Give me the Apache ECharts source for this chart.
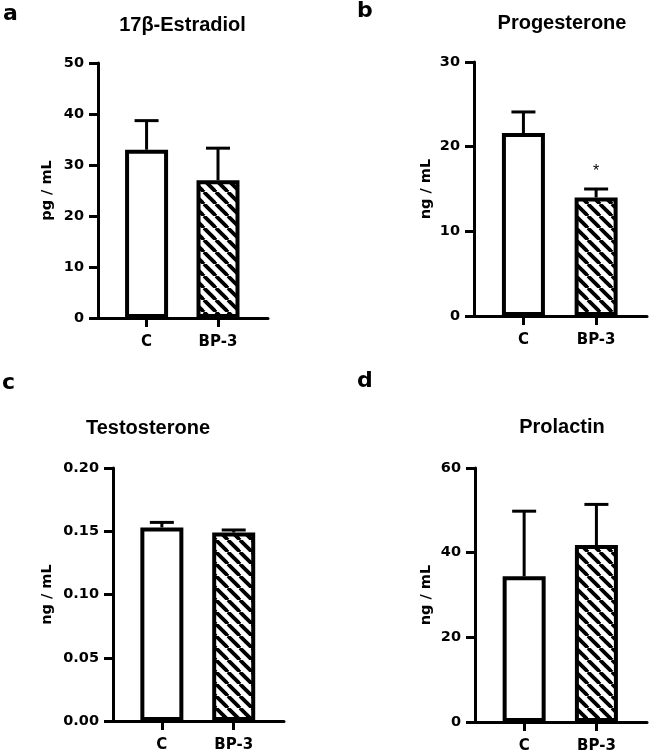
<!DOCTYPE html>
<html>
<head>
<meta charset="utf-8">
<script src="https://cdn.jsdelivr.net/npm/echarts@6/dist/echarts.min.js"></script>
<style>html,body{margin:0;padding:0;background:#fff;}#main{width:649px;height:755px;}</style>
</head>
<body>
<div id="main"></div>
<script>
const categories = ['C', 'BP-3'];
const estradiolMean = [33.0, 27.0];
const estradiolUpper = [38.7, 33.3];
const progesteroneMean = [21.6, 14.0];
const progesteroneUpper = [24.1, 15.0];
const progesteroneSig = ['', '*'];
const testosteroneMean = [0.153, 0.149];
const testosteroneUpper = [0.157, 0.151];
const prolactinMean = [34.4, 41.8];
const prolactinUpper = [49.8, 51.4];

const titles = ['17\u03B2-Estradiol', 'Progesterone', 'Testosterone', 'Prolactin'];
const panelLetters = ['a', 'b', 'c', 'd'];
const yNames = ['pg / mL', 'ng / mL', 'ng / mL', 'ng / mL'];
const yMax = [50, 30, 0.2, 60];
const yInterval = [10, 10, 0.05, 20];

const FONT = '"Liberation Sans", Arial, sans-serif';
const WFONT = '"DejaVu Sans", sans-serif';

// hatch pattern
const tile = document.createElement('canvas');
tile.width = 12; tile.height = 12;
const tc = tile.getContext('2d');
tc.fillStyle = '#fff'; tc.fillRect(0, 0, 12, 12);
tc.strokeStyle = '#000'; tc.lineWidth = 3.8;
[-12, 0, 12].forEach(function (x0) {
  tc.beginPath(); tc.moveTo(x0, 0); tc.lineTo(x0 + 12, 12); tc.stroke();
});
const hatch = { image: tile, repeat: 'repeat' };

const panels = [
  { mean: estradiolMean, upper: estradiolUpper, sig: ['', ''], grid: { left: 98, top: 63, width: 170, height: 255 }, nameGap: 43 },
  { mean: progesteroneMean, upper: progesteroneUpper, sig: progesteroneSig, grid: { left: 474, top: 62, width: 173, height: 254 }, nameGap: 40 },
  { mean: testosteroneMean, upper: testosteroneUpper, sig: ['', ''], grid: { left: 113, top: 468, width: 171, height: 253 }, nameGap: 58 },
  { mean: prolactinMean, upper: prolactinUpper, sig: ['', ''], grid: { left: 475, top: 468, width: 172, height: 254 }, nameGap: 41 }
];

const grid = [], xAxis = [], yAxis = [], series = [];
panels.forEach(function (p, i) {
  grid.push(p.grid);
  xAxis.push({
    type: 'value', gridIndex: i, min: -0.68, max: 1.70,
    splitLine: { show: false },
    axisLine: { onZero: false, lineStyle: { color: '#000', width: 3 } },
    axisTick: { show: true, customValues: [0, 1], length: 9, lineStyle: { color: '#000', width: 3 } },
    axisLabel: {
      customValues: [0, 1], margin: 17,
      formatter: function (v) { return categories[Math.round(v)]; },
      color: '#000', fontFamily: WFONT, fontWeight: 'bold', fontSize: 15
    }
  });
  yAxis.push({
    type: 'value', gridIndex: i, min: 0, max: yMax[i], interval: yInterval[i],
    name: yNames[i], nameLocation: 'middle', nameGap: p.nameGap, nameRotate: 90,
    nameTextStyle: { color: '#000', fontFamily: WFONT, fontWeight: 'bold', fontSize: 14.5 },
    splitLine: { show: false },
    axisLine: { show: true, onZero: false, lineStyle: { color: '#000', width: 3 } },
    axisTick: { show: true, length: 9, lineStyle: { color: '#000', width: 3 } },
    axisLabel: {
      margin: 14, color: '#000', fontFamily: WFONT, fontWeight: 'bold', fontSize: 14.5,
      formatter: function (v) { return i === 2 ? v.toFixed(2) : String(v); }
    }
  });
  series.push({
    type: 'bar', xAxisIndex: i, yAxisIndex: i, barWidth: 43, z: 2,
    data: p.mean.map(function (m, k) {
      return { value: [k, m], itemStyle: { color: k === 0 ? '#fff' : hatch, borderColor: '#000', borderWidth: 4 } };
    }),
    silent: true
  });
  series.push({
    type: 'custom', xAxisIndex: i, yAxisIndex: i, z: 3, silent: true,
    data: p.mean.map(function (m, k) { return [k, m, p.upper[k], k]; }),
    renderItem: function (params, api) {
      const k = api.value(3);
      const p0 = api.coord([api.value(0), api.value(1)]);
      const p1 = api.coord([api.value(0), api.value(2)]);
      const children = [
        { type: 'line', shape: { x1: p0[0], y1: p0[1], x2: p1[0], y2: p1[1] }, style: { stroke: '#000', lineWidth: 3 } },
        { type: 'line', shape: { x1: p1[0] - 12, y1: p1[1], x2: p1[0] + 12, y2: p1[1] }, style: { stroke: '#000', lineWidth: 3 } }
      ];
      const s = p.sig[k];
      if (s) {
        children.push({ type: 'text', x: p1[0], y: p1[1] - 17, style: { text: s, align: 'center', verticalAlign: 'middle', fill: '#000', font: 'normal 16px ' + FONT } });
      }
      return { type: 'group', children: children };
    }
  });
});

const titlePos = [[182.5, 25], [562, 23.7], [148, 428.7], [562, 427.7]];
const letterPos = [[3, 14], [357, 11.5], [2, 383], [357, 381.5]];
const graphic = [];
titles.forEach(function (t, i) {
  graphic.push({ type: 'text', x: titlePos[i][0], y: titlePos[i][1], silent: true,
    style: { text: t, align: 'center', verticalAlign: 'middle', fill: '#000', font: 'bold 20px ' + FONT } });
  graphic.push({ type: 'text', x: letterPos[i][0], y: letterPos[i][1], silent: true,
    style: { text: panelLetters[i], align: 'left', verticalAlign: 'middle', fill: '#000', font: 'bold 22px ' + WFONT } });
});

const chart = echarts.init(document.getElementById('main'), null, { renderer: 'canvas' });
chart.setOption({ animation: false, backgroundColor: '#fff', grid: grid, xAxis: xAxis, yAxis: yAxis, series: series, graphic: graphic });
</script>
</body>
</html>
